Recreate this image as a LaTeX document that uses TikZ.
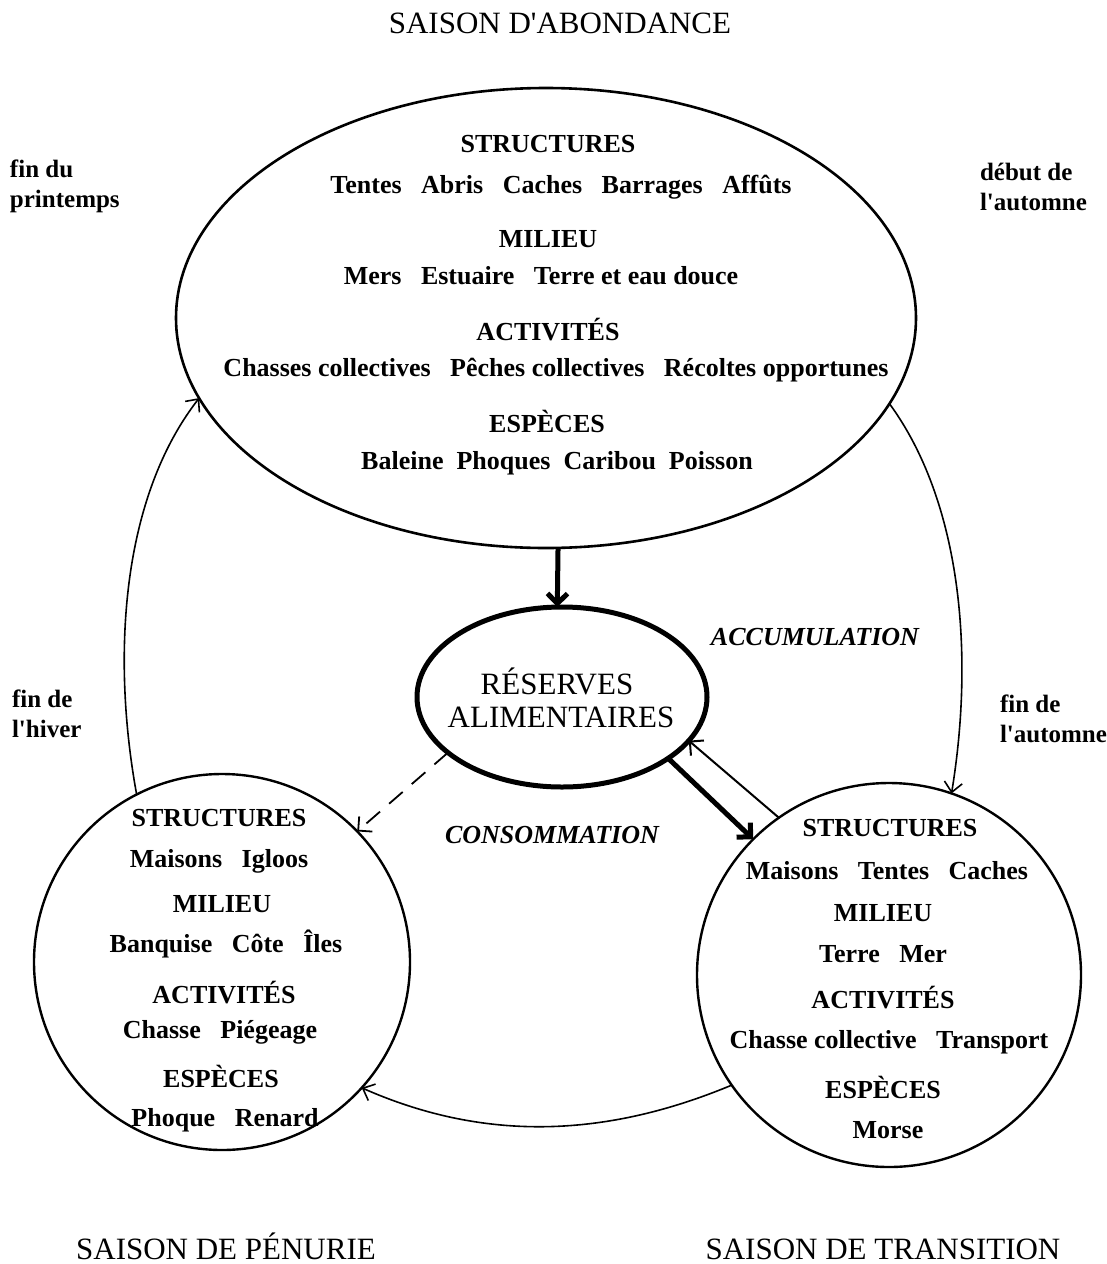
\documentclass[tikz,border=0pt]{standalone}
\usepackage{fontspec}
\newfontfamily\serif{Liberation Serif}
\usetikzlibrary{shapes.geometric,arrows.meta}
\begin{document}
\begin{tikzpicture}[x=0.5pt,y=-0.5pt,
  every node/.style={inner sep=0pt, outer sep=0pt},
  season/.style={font=\serif\fontsize{15.5}{18}\selectfont},
  head/.style={font=\serif\bfseries\fontsize{13}{15}\selectfont},
  moment/.style={font=\serif\bfseries\fontsize{12.5}{15}\selectfont, align=left, anchor=north west},
  flux/.style={font=\serif\bfseries\itshape\fontsize{13}{15}\selectfont},
  cycle/.style={line width=0.8pt, -{Straight Barb[length=5pt,width=9pt]}},
  >={Straight Barb[length=5pt,width=10pt]}]
\useasboundingbox (0,0) rectangle (1107,1264);
\node[season, anchor=base] (t-abond) at (560,33) {SAISON D'ABONDANCE};
\node[season, anchor=base] (t-pen) at (226,1259) {SAISON DE PÉNURIE};
\node[season, anchor=base] (t-trans) at (883,1259) {SAISON DE TRANSITION};
\node[draw, line width=1.3pt, ellipse, minimum width=370pt, minimum height=230pt] (abondance) at (546,318) {};
\node[draw, line width=2.5pt, ellipse, minimum width=145pt, minimum height=90pt] (reserves) at (562,697) {};
\node[draw, line width=1.2pt, circle, minimum size=188pt] (penurie) at (222,962) {};
\node[draw, line width=1.2pt, circle, minimum size=192pt] (transition) at (889,975) {};
\node[season] (r-1) at (557,681) {RÉSERVES};
\node[season] (r-2) at (561,717) {ALIMENTAIRES};
\node[head] (a-1) at (548,144) {STRUCTURES};
\node[head] (a-2) at (561,187) {Tentes~~~Abris~~~Caches~~~Barrages~~~Affûts};
\node[head] (a-3) at (548,239) {MILIEU};
\node[head] (a-4) at (541,276) {Mers~~~Estuaire~~~Terre et eau douce};
\node[head] (a-5) at (548,330) {ACTIVITÉS};
\node[head] (a-6) at (556,370) {Chasses collectives~~~Pêches collectives~~~Récoltes opportunes};
\node[head] (a-7) at (547,421) {ESPÈCES};
\node[head] (a-8) at (557,463) {Baleine~~Phoques~~Caribou~~Poisson};
\node[head] (p-1) at (219,818) {STRUCTURES};
\node[head] (p-2) at (219,861) {Maisons~~~Igloos};
\node[head] (p-3) at (222,904) {MILIEU};
\node[head] (p-4) at (226,944) {Banquise~~~Côte~~~Îles};
\node[head] (p-5) at (224,993) {ACTIVITÉS};
\node[head] (p-6) at (220,1032) {Chasse~~~Piégeage};
\node[head] (p-7) at (221,1076) {ESPÈCES};
\node[head] (p-8) at (225,1120) {Phoque~~~Renard};
\node[head] (s-1) at (890,828) {STRUCTURES};
\node[head] (s-2) at (887,871) {Maisons~~~Tentes~~~Caches};
\node[head] (s-3) at (883,913) {MILIEU};
\node[head] (s-4) at (883,954) {Terre~~~Mer};
\node[head] (s-5) at (883,998) {ACTIVITÉS};
\node[head] (s-6) at (889,1042) {Chasse collective~~~Transport};
\node[head] (s-7) at (883,1087) {ESPÈCES};
\node[head] (s-8) at (888,1130) {Morse};
\node[moment] (m-1) at (10,160) {fin du\\printemps};
\node[moment] (m-2) at (980,163) {début de\\l'automne};
\node[moment] (m-3) at (12,690) {fin de\\l'hiver};
\node[moment] (m-4) at (1000,695) {fin de\\l'automne};
\node[flux] (f-1) at (815,637) {ACCUMULATION};
\node[flux] (f-2) at (552,835) {CONSOMMATION};
\draw[line width=2.5pt,->] (abondance.-87) -- (reserves.93);
\draw[line width=2.5pt,->] (reserves.-30) -- (transition.135);
\draw[line width=1pt,->] (transition.125) -- (reserves.-19);
\draw[line width=0.9pt,dash pattern=on 9pt off 6pt,->] (reserves.-154) -- (penurie.44);
\draw[cycle] (penurie.117) .. controls (112,660) and (120,500) .. (abondance.193);
\draw[cycle] (abondance.-14) .. controls (960,500) and (975,650) .. (transition.71);
\draw[cycle] (transition.215) .. controls (600,1140) and (480,1140) .. (penurie.-42);
\end{tikzpicture}
\end{document}
